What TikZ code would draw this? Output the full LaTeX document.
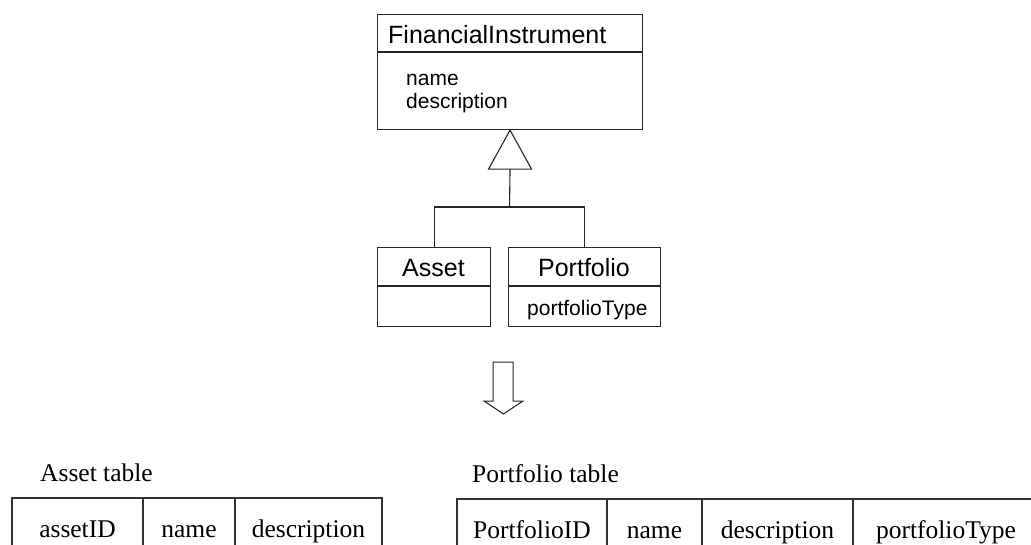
\documentclass[tikz,border=0pt]{standalone}
\usepackage{fontspec}
\setmainfont{Liberation Serif}
\newfontfamily\umlfont{Liberation Sans}
\begin{document}
\begin{tikzpicture}[x=1pt,y=-1pt,
  line/.style={draw=black!85, line width=1.1pt},
  classbox/.style={line, rectangle, inner sep=0pt, anchor=north west},
  umltitle/.style={font=\umlfont\fontsize{25}{28}\selectfont, inner sep=0pt, anchor=base},
  umlattr/.style={font=\umlfont\fontsize{21}{24}\selectfont, inner sep=0pt, anchor=base west},
  tabletext/.style={font=\fontsize{25.5}{28}\selectfont, inner sep=0pt, anchor=base},
  tableline/.style={draw=black!80, line width=1.3pt},
]
\useasboundingbox[fill=white] (0,0) rectangle (1031,544);

% Superclass
\node[classbox, minimum width=265pt, minimum height=115pt] (fi) at (377,14) {};
\draw[line] ([yshift=-38pt]fi.north west) -- ([yshift=-38pt]fi.north east);
\node[umltitle, anchor=base west] (fititle) at (388,43) {FinancialInstrument};
\node[umlattr] (finame) at (406,85) {name};
\node[umlattr] (fidesc) at (406,108) {description};

% Subclasses
\node[classbox, minimum width=113pt, minimum height=79pt] (asset) at (377,247) {};
\draw[line] ([yshift=-39pt]asset.north west) -- ([yshift=-39pt]asset.north east);
\node[umltitle] (assettitle) at (433.5,276) {Asset};

\node[classbox, minimum width=152pt, minimum height=79pt] (portfolio) at (508,247) {};
\draw[line] ([yshift=-39pt]portfolio.north west) -- ([yshift=-39pt]portfolio.north east);
\node[umltitle] (portfoliotitle) at (584,276) {Portfolio};
\node[umlattr] (portfoliotype) at (527,315) {portfolioType};

% Generalization
\draw[line, fill=white] (fi.south) -- ++(21.5,39) -- ++(-43,0) -- cycle;
\coordinate (tribase) at ([yshift=-39pt]fi.south);
\coordinate (joint) at (509.5,207);
\draw[line] (tribase) -- (joint);
\draw[line] (asset.north) |- (joint) -| (portfolio.north);

% Mapping arrow
\draw[line, line width=1pt, line join=miter]
  (493,362) -- (513,362) -- (513,401) -- (523,401) -- (503.5,414)
  -- (484,401) -- (493,401) -- cycle;

% Tables
\node[tabletext, anchor=base west] (assetcap) at (40,481) {Asset table};
\node[tabletext, anchor=base west] (portcap) at (472,482) {Portfolio table};

\begin{scope}
\clip (0,0) rectangle (1031,544);
\draw[tableline] (12,560) -- (12,498) -- (382,498) -- (382,560);
\draw[tableline] (143,498) -- (143,560);
\draw[tableline] (235,498) -- (235,560);

\draw[tableline] (457,560) -- (457,499) -- (1045,499);
\draw[tableline] (607,499) -- (607,560);
\draw[tableline] (702,499) -- (702,560);
\draw[tableline] (853,499) -- (853,560);
\end{scope}

\node[tabletext] (c1) at (77.5,537) {assetID};
\node[tabletext] (c2) at (189,537) {name};
\node[tabletext] (c3) at (308.5,537) {description};

\node[tabletext] (p1) at (532,538) {PortfolioID};
\node[tabletext] (p2) at (654.5,538) {name};
\node[tabletext] (p3) at (777.5,538) {description};
\node[tabletext] (p4) at (946,538) {portfolioType};
\end{tikzpicture}
\end{document}
